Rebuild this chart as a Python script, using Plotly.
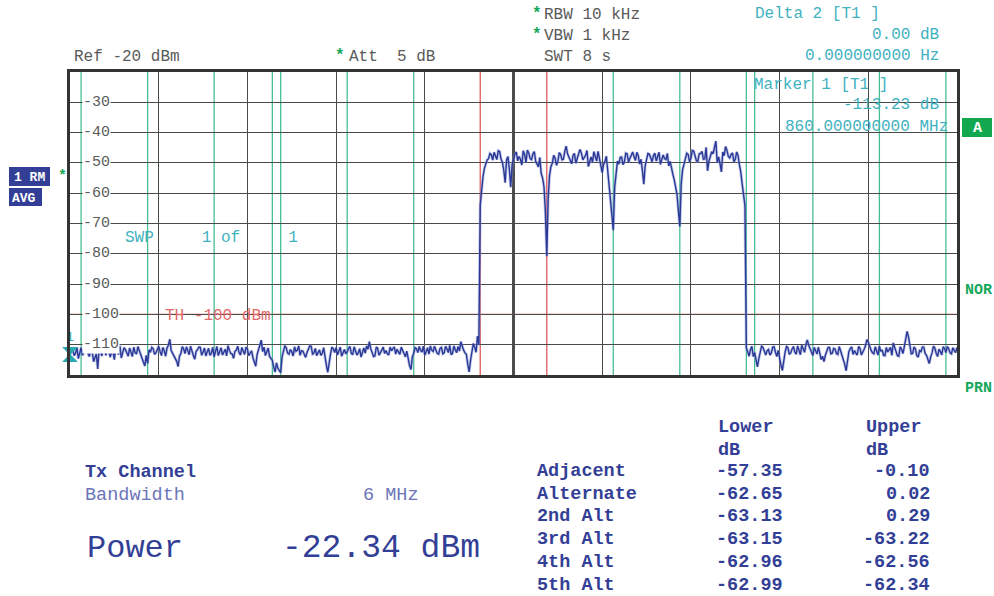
import numpy as np
import plotly.graph_objects as go

# ---------------- data ----------------
f_start, f_stop = 860.0, 940.0          # MHz (marker 1 sits at 860 MHz on the left edge)
ref_level, y_bottom = -20, -120          # dBm
ytick_vals = [-30, -40, -50, -60, -70, -80, -90, -100, -110]
grid_freqs = [868, 876, 884, 892, 900, 908, 916, 924, 932]
center_freq = 900
tx_edges = [897, 903]
channel_edges = [861, 867, 873, 878.25, 879, 885, 891, 909, 915, 921, 921.75, 927, 933, 939]
threshold = -100
marker_freq, marker_level = 860.0, -113.23

# sweep samples on the 0.25 MHz grid (860.00, 860.25, ...)
noise_lower = [
    -113.2, -111.5, -112.8, -114.6, -111.0, -112.3, -110.6, -113.9, -112.1, -114.2,
    -118.0, -112.4, -110.9, -113.5, -111.8, -112.6, -114.9, -111.2, -110.4, -112.9,
    -111.6, -113.8, -112.2, -110.8, -113.1, -111.9, -114.4, -117.0, -116.2, -112.5,
    -111.3, -112.7, -110.5, -113.6, -112.0, -111.1, -108.2, -112.8, -114.1, -117.2,
    -112.9, -111.4, -110.7, -113.3, -112.5, -114.8, -111.6, -110.9, -112.4, -113.7,
    -111.2, -112.8, -114.0, -110.6, -112.1, -113.4, -111.5, -110.3, -112.9, -114.5,
    -111.8, -112.6, -110.9, -113.2, -111.4, -112.7, -114.3, -117.1, -111.9, -108.5,
    -110.8, -112.5, -113.9, -115.2, -119.0, -117.8, -119.2, -112.6, -111.0, -113.1,
    -112.3, -110.7, -111.8, -113.5, -112.1, -114.2, -111.3, -110.5, -112.8, -113.6,
    -111.7, -112.9, -114.6, -119.1, -113.0, -111.4, -110.9, -112.2, -113.8, -111.6,
    -112.4, -110.6, -113.3, -111.9, -112.7, -114.1, -111.1, -110.4, -109.0, -112.5,
    -113.7, -111.2, -112.6, -110.8, -111.9, -113.4, -112.0, -110.7, -111.5, -113.2,
    -112.1, -114.0, -115.3, -118.2, -112.8, -111.3, -110.6, -112.4, -113.5, -111.0,
    -110.4, -112.2, -111.6, -113.1, -110.9, -112.7, -111.4, -110.2, -112.9, -111.7,
    -110.6, -109.0, -111.8, -113.2, -119.0, -112.3, -110.8, -107.2,
]
signal_band = [
    -64.0, -54.5, -50.2, -48.6, -47.3, -46.5, -48.9, -46.2, -49.8, -56.5,
    -47.9, -58.0, -48.3, -46.4, -47.9, -50.7, -47.2, -45.8, -48.6, -47.0,
    -49.5, -51.3, -53.5, -57.8, -80.8, -54.2, -50.1, -48.4, -49.6, -47.2,
    -48.8, -44.5, -48.1, -50.3, -46.9, -48.2, -45.6, -49.0, -47.5, -51.2,
    -48.0, -46.3, -49.4, -48.6, -53.2, -49.5, -52.8, -62.0, -72.2, -53.0,
    -50.4, -48.1, -49.7, -47.0, -48.5, -46.4, -49.2, -47.6, -48.8, -57.0,
    -48.4, -47.1, -49.6, -46.8, -48.2, -50.5, -47.4, -48.9, -51.0, -52.4,
    -55.6, -60.5, -71.0, -52.3, -49.0, -47.2, -48.5, -46.1, -49.3, -47.0,
    -46.2, -48.7, -52.6, -47.5, -47.0, -42.8, -48.0, -53.0, -47.6, -45.8,
    -48.4, -46.7, -48.9, -47.5, -53.0, -61.5,
]
noise_upper = [
    -111.0, -113.8, -110.5, -112.6, -117.3, -112.1, -110.9, -113.4, -111.6, -112.8,
    -110.7, -113.9, -114.7, -118.5, -112.4, -111.0, -112.7, -110.6, -113.1, -111.9,
    -110.2, -112.5, -108.4, -111.3, -113.6, -112.0, -110.8, -114.9, -115.6, -112.3,
    -110.9, -112.8, -111.4, -113.2, -112.0, -114.6, -118.6, -112.2, -110.7, -111.9,
    -113.4, -111.1, -112.6, -110.3, -109.2, -111.8, -113.0, -112.1, -110.5, -111.7,
    -113.6, -112.4, -110.9, -109.4, -112.2, -113.8, -111.5, -110.6, -105.6, -111.2,
    -112.9, -111.4, -114.1, -112.3, -110.8, -113.5, -116.2, -112.7, -111.1, -113.9,
    -112.2, -110.7, -112.6, -111.3, -113.0, -111.8, -110.9,
]
# in-between sweep samples (860.125, 860.375, ...)
noise_lower_mid = [
    -111.9, -113.6, -110.9, -112.4, -113.5, -111.2, -112.9, -111.4, -115.6, -113.0,
    -111.3, -113.7, -112.0, -110.7, -114.1, -112.2, -110.9, -113.3, -114.4, -111.0,
    -112.7, -111.1, -113.9, -112.6, -110.6, -113.0, -115.8, -113.5, -111.7, -110.9,
    -113.2, -111.5, -112.3, -110.9, -113.8, -110.2, -111.9, -113.3, -115.5, -113.8,
    -110.6, -112.9, -111.8, -110.5, -113.6, -112.2, -110.8, -113.5, -111.1, -112.0,
    -113.5, -110.9, -112.2, -113.6, -111.0, -112.1, -113.7, -111.8, -113.1, -112.2,
    -110.5, -113.4, -112.1, -110.8, -113.6, -112.0, -115.9, -113.3, -109.9, -112.3,
    -113.6, -111.1, -114.8, -117.4, -116.0, -118.5, -114.1, -110.3, -112.8, -111.6,
    -113.7, -112.2, -110.4, -112.0, -113.3, -112.6, -110.4, -113.1, -111.2, -112.3,
    -113.5, -111.0, -116.8, -115.5, -110.8, -112.6, -113.4, -110.8, -112.5, -113.0,
    -111.2, -112.9, -110.7, -113.4, -111.3, -112.5, -112.8, -111.5, -111.3, -113.9,
    -110.8, -113.5, -111.4, -112.9, -113.0, -110.8, -111.3, -113.1, -112.4, -110.8,
    -113.3, -112.1, -116.9, -114.0, -111.0, -112.6, -111.9, -110.5, -111.8, -113.1,
    -111.8, -110.5, -112.9, -111.2, -113.0, -110.5, -112.6, -113.3, -110.4, -112.6,
    -112.1, -110.8, -112.7, -116.5, -115.2, -109.6, -112.5, -110.1,
]
signal_band_mid = [
    -58.0, -51.8, -49.0, -46.9, -49.1, -47.8, -46.0, -48.7, -52.5, -49.0,
    -52.0, -50.5, -47.1, -49.3, -48.8, -46.0, -49.9, -46.7, -48.9, -46.3,
    -50.6, -48.2, -55.0, -66.0, -62.0, -51.2, -47.5, -50.8, -46.6, -49.0,
    -46.2, -47.0, -49.7, -47.5, -50.1, -47.0, -46.8, -48.3, -45.9, -49.6,
    -49.8, -47.9, -46.2, -51.0, -50.4, -47.8, -56.0, -68.0, -58.0, -49.4,
    -48.2, -50.6, -46.8, -49.8, -47.1, -48.0, -46.5, -50.4, -52.5, -51.0,
    -46.9, -48.8, -47.6, -49.4, -46.5, -49.0, -48.6, -46.9, -49.5, -53.8,
    -58.0, -66.0, -57.0, -50.5, -46.8, -49.6, -45.9, -48.1, -49.5, -46.9,
    -48.8, -44.9, -49.5, -46.3, -45.1, -49.9, -50.2, -46.4, -44.6, -47.9,
    -47.2, -49.6, -46.4, -50.6, -57.0, -64.0,
]
noise_upper_mid = [
    -112.3, -111.6, -113.9, -115.0, -114.6, -110.5, -112.4, -112.0, -113.4, -110.8,
    -112.5, -111.9, -116.8, -115.1, -110.6, -113.2, -111.4, -112.5, -110.4, -113.3,
    -111.6, -109.9, -110.2, -112.8, -110.9, -113.1, -112.6, -113.8, -113.5, -110.9,
    -113.0, -111.2, -112.9, -110.6, -113.4, -116.5, -115.0, -111.3, -113.2, -112.8,
    -110.6, -113.4, -111.5, -108.3, -110.8, -112.7, -110.7, -113.4, -112.2, -113.5,
    -110.9, -111.6, -113.5, -110.8, -113.6, -110.7, -112.9, -108.0, -107.4, -113.0,
    -110.7, -113.6, -112.0, -110.8, -112.9, -114.8, -114.0, -110.5, -112.9, -111.5,
    -113.4, -111.2, -110.6, -112.7, -111.0, -112.6,
]

acp_rows = ["Adjacent", "Alternate", "2nd Alt", "3rd Alt", "4th Alt", "5th Alt"]
acp_lower = [-57.35, -62.65, -63.13, -63.15, -62.96, -62.99]
acp_upper = [-0.10, 0.02, 0.29, -63.22, -62.56, -62.34]
tx_bandwidth = "6 MHz"
tx_power = -22.34

main_pts = noise_lower + signal_band + noise_upper
mid_pts = noise_lower_mid + signal_band_mid + noise_upper_mid
level = []
for i, v in enumerate(main_pts):
    level.append(v)
    if i < len(mid_pts):
        level.append(mid_pts[i])
freq = np.linspace(f_start, f_stop, len(level))

# ---------------- layout helpers ----------------
W, H = 994, 596
L, R, T, B = 70, 957, 72, 375   # plot area in page pixels
MONO = "Liberation Mono, Courier New, monospace"
GRAY = "#5a5a5a"
TEAL = "#3fb2c0"
GREEN = "#16a85a"
NAVY = "#333f96"
NAVY_L = "#6b75b8"


def px(x):
    return (x - L) / (R - L)


def py(y):
    return (B - y) / (B - T)


fig = go.Figure()

fig.add_trace(go.Scatter(x=freq, y=level, mode="lines",
                         line=dict(color="#8a96d6", width=3.0), opacity=0.5,
                         hoverinfo="skip", showlegend=False))
fig.add_trace(go.Scatter(x=freq, y=level, mode="lines",
                         line=dict(color="#2a3896", width=1.4),
                         showlegend=False))
fig.add_trace(go.Scatter(x=[marker_freq], y=[marker_level], mode="markers+text",
                         marker=dict(symbol="hourglass", size=14, color="#2aa7b0",
                                     line=dict(color="#2aa7b0", width=1)),
                         text=["1"], textposition="top center",
                         textfont=dict(family=MONO, size=13, color="#2aa7b0"),
                         cliponaxis=False, showlegend=False))

shapes = []
for f in channel_edges:
    shapes.append(dict(type="line", xref="x", yref="paper", x0=f, x1=f, y0=0, y1=1,
                       line=dict(color="#45bf93", width=1.3), layer="below"))
for f in tx_edges:
    shapes.append(dict(type="line", xref="x", yref="paper", x0=f, x1=f, y0=0, y1=1,
                       line=dict(color="#e05a5a", width=1.3), layer="below"))
shapes.append(dict(type="line", xref="x", yref="paper", x0=center_freq, x1=center_freq,
                   y0=0, y1=1, line=dict(color="#222", width=2.6), layer="below"))
shapes.append(dict(type="line", xref="paper", yref="y", x0=0, x1=1, y0=threshold, y1=threshold,
                   line=dict(color="#e05a5a", width=1.3), layer="below"))
shapes.append(dict(type="rect", xref="paper", yref="paper", x0=px(9), x1=px(50), y0=py(186), y1=py(167),
                   fillcolor=NAVY, line=dict(width=0)))
shapes.append(dict(type="rect", xref="paper", yref="paper", x0=px(9), x1=px(42), y0=py(206), y1=py(188),
                   fillcolor=NAVY, line=dict(width=0)))
shapes.append(dict(type="rect", xref="paper", yref="paper", x0=px(962), x1=px(992), y0=py(137), y1=py(118),
                   fillcolor="#12a850", line=dict(width=0)))

ann = []


def text(x, y, s, size=16, color=GRAY, anchor="left", bold=False):
    ann.append(dict(x=px(x), y=py(y), xref="paper", yref="paper",
                    text=("<b>%s</b>" % s) if bold else s, showarrow=False,
                    xanchor=anchor, yanchor="middle",
                    font=dict(family=MONO, size=size, color=color)))


for v in ytick_vals:
    ann.append(dict(x=px(82), y=v, xref="paper", yref="y", text=str(v), showarrow=False,
                    xanchor="left", yanchor="middle", bgcolor="white", borderpad=0,
                    font=dict(family=MONO, size=15, color=GRAY)))

NB = "\u00a0"
text(72, 57, "Ref -20 dBm")
text(333, 56, "*", color=GREEN, bold=True)
text(347, 57, "Att" + NB * 2 + "5 dB")
text(530, 14, "*", color=GREEN, bold=True)
text(542, 15, "RBW 10 kHz")
text(530, 35, "*", color=GREEN, bold=True)
text(542, 36, "VBW 1 kHz")
text(542, 57, "SWT 8 s")
text(753, 14, "Delta 2 [T1 ]", color=TEAL)
text(941, 35, "0.00 dB", color=TEAL, anchor="right")
text(941, 56, "0.000000000 Hz", color=TEAL, anchor="right")
text(752, 85, "Marker 1 [T1 ]", color=TEAL)
text(941, 105, "-113.23 dB", color=TEAL, anchor="right")
text(950, 127, "860.000000000 MHz", color=TEAL, anchor="right")
text(977, 128, "A", size=15, color="white", anchor="center", bold=True)
text(12, 177, "1 RM", size=13, color="white", bold=True)
text(10, 198, "AVG", size=13, color="white", bold=True)
text(56, 176, "*", size=15, color=GREEN, bold=True)
text(123, 238, "SWP" + NB * 5 + "1 of" + NB * 5 + "1", color=TEAL)
text(163, 316, "TH -100 dBm", color="#e06a6a")
text(963, 290, "NOR", size=15, color=GREEN, bold=True)
text(963, 389, "PRN", size=15, color=GREEN, bold=True)

text(83, 472, "Tx Channel", size=18.5, color=NAVY, bold=True)
text(83, 495, "Bandwidth", size=18.5, color=NAVY_L)
text(421, 495, tx_bandwidth, size=18.5, color=NAVY_L, anchor="right")
text(85, 548, "Power", size=32, color=NAVY)
text(482, 548, "%.2f dBm" % tx_power, size=33, color=NAVY, anchor="right")
text(716, 427, "Lower", size=18.5, color=NAVY, bold=True)
text(716, 450, "dB", size=18.5, color=NAVY, bold=True)
text(864, 427, "Upper", size=18.5, color=NAVY, bold=True)
text(864, 450, "dB", size=18.5, color=NAVY, bold=True)
for i, (name, lo, up) in enumerate(zip(acp_rows, acp_lower, acp_upper)):
    yy = 471.5 + i * 22.7
    text(535, yy, name, size=18.5, color=NAVY, bold=True)
    text(785, yy, "%.2f" % lo, size=18.5, color=NAVY, bold=True, anchor="right")
    text(932, yy, "%.2f" % up, size=18.5, color=NAVY, bold=True, anchor="right")

fig.update_layout(
    width=W, height=H, autosize=False,
    margin=dict(l=L, r=W - R, t=T, b=H - B),
    paper_bgcolor="white", plot_bgcolor="white",
    shapes=shapes, annotations=ann, showlegend=False,
    xaxis=dict(range=[f_start, f_stop], tickvals=grid_freqs, showticklabels=False,
               ticks="", showgrid=True, gridcolor="#4a4a4a", gridwidth=1, zeroline=False,
               showline=True, linecolor="#333", linewidth=3, mirror=True, fixedrange=True),
    yaxis=dict(range=[y_bottom, ref_level], tickvals=ytick_vals, showticklabels=False,
               ticks="", showgrid=True, gridcolor="#4a4a4a", gridwidth=1, zeroline=False,
               showline=True, linecolor="#333", linewidth=3, mirror=True, fixedrange=True),
)

fig.write_html("out.html", config={"displayModeBar": False},
               post_script="document.body.style.margin='0';document.body.style.overflow='hidden';")
